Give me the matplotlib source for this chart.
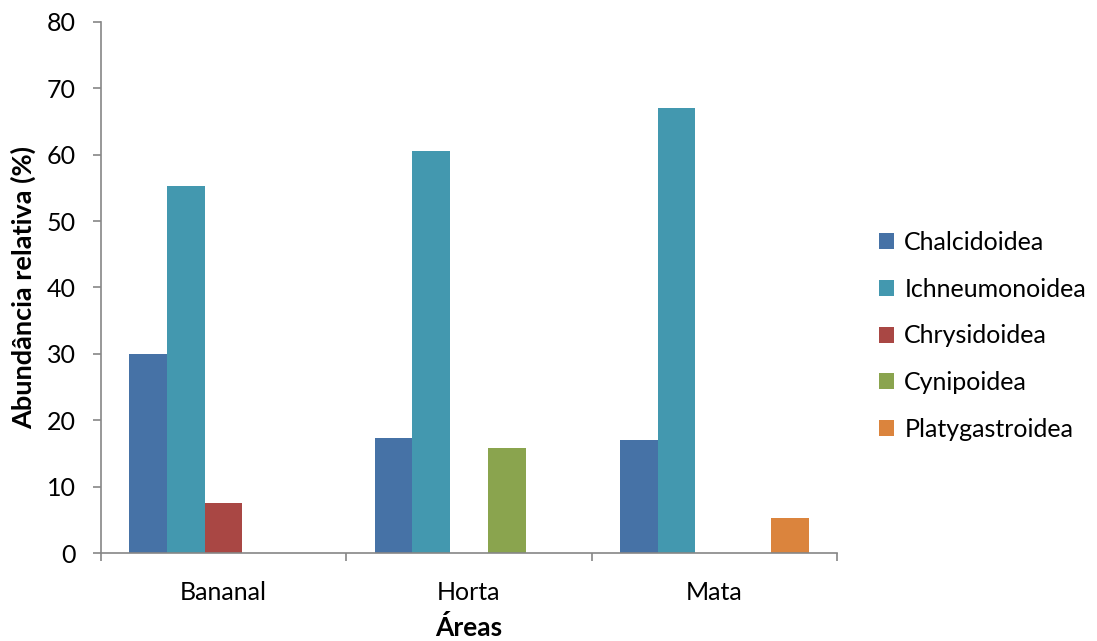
import numpy as np
import matplotlib.pyplot as plt

plt.rcParams['font.family'] = ['Lato', 'DejaVu Sans']

areas = ["Bananal", "Horta", "Mata"]
superfamilies = ["Chalcidoidea", "Ichneumonoidea", "Chrysidoidea",
                 "Cynipoidea", "Platygastroidea"]
chalcidoidea = [30.0, 17.3, 17.0]
ichneumonoidea = [55.3, 60.5, 67.0]
chrysidoidea = [7.6, 0.0, 0.0]
cynipoidea = [0.0, 15.8, 0.0]
platygastroidea = [0.0, 0.0, 5.3]
colors = ["#4672A6", "#4398AF", "#A94744", "#8AA44E", "#DB843D"]

series = [chalcidoidea, ichneumonoidea, chrysidoidea, cynipoidea, platygastroidea]

fig = plt.figure(figsize=(10.97, 6.41), dpi=100)
ax = fig.add_axes([0.092, 0.137, 0.671, 0.829])

x = np.arange(len(areas))
width = 0.154
for i, (vals, name, c) in enumerate(zip(series, superfamilies, colors)):
    ax.bar(x + (i - 2) * width, vals, width, color=c, label=name,
           edgecolor="none")

ax.set_xlim(-0.5, len(areas) - 0.5)
ax.set_ylim(0, 80)
ax.set_yticks(range(0, 81, 10))
ax.set_xticks(x)
ax.set_xticklabels(areas)
ax.set_xticks(np.arange(-0.5, len(areas)), minor=True)
ax.tick_params(axis="x", which="major", length=0, pad=20, labelsize=18)
ax.tick_params(axis="x", which="minor", length=6, color="#868686", width=1.2)
ax.tick_params(axis="y", length=6, color="#868686", width=1.2, labelsize=18,
               pad=12)

for side in ["top", "right"]:
    ax.spines[side].set_visible(False)
for side in ["left", "bottom"]:
    ax.spines[side].set_color("#868686")
    ax.spines[side].set_linewidth(1.2)

ax.set_ylabel("Abundância relativa (%)", fontsize=19.5, fontweight="bold",
              labelpad=8)
ax.set_xlabel("Áreas", fontsize=19, fontweight="bold", labelpad=8)

fig.legend(loc="center left", bbox_to_anchor=(0.781, 0.476), frameon=False,
           fontsize=18, handlelength=0.6, handleheight=0.6,
           labelspacing=0.95, handletextpad=0.4)

fig.savefig("out.png", dpi=100)
